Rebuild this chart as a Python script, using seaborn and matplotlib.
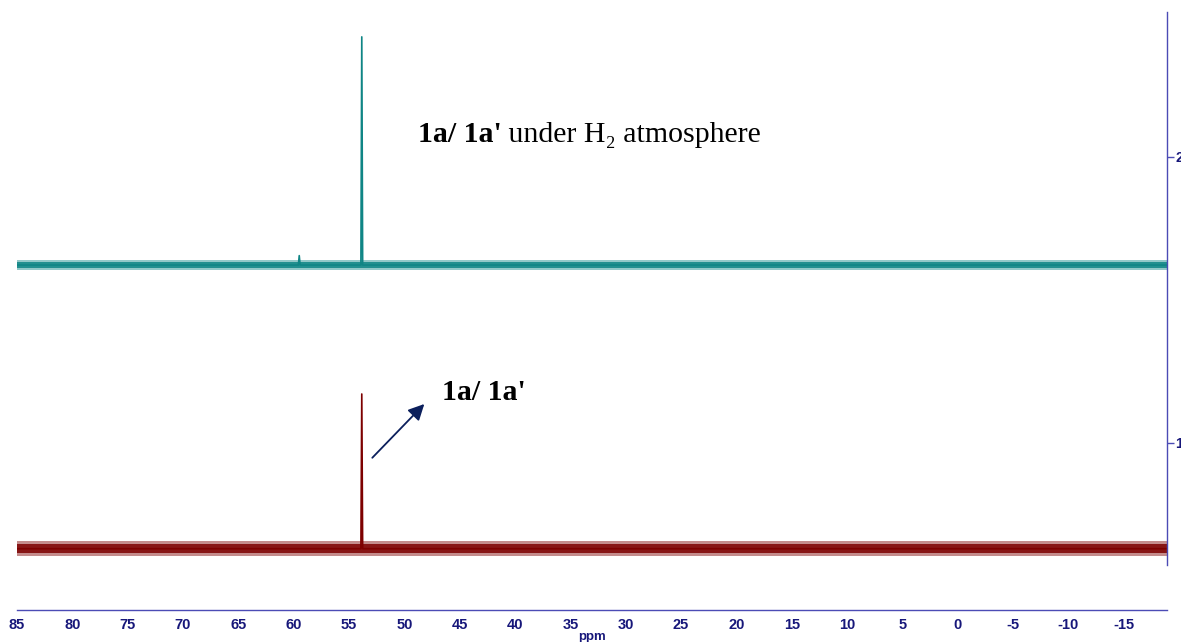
import numpy as np
import pandas as pd
import matplotlib
matplotlib.use("Agg")
import matplotlib.pyplot as plt
from matplotlib.ticker import MultipleLocator
import seaborn as sns

# Spectral window (ppm) and x-axis ticks
ppm_left = 85.0
ppm_right = -18.9
ppm_ticks = [85, 80, 75, 70, 65, 60, 55, 50, 45, 40, 35, 30, 25, 20, 15, 10, 5, 0, -5, -10, -15]
intensity_ticks = [1, 2]

# Spectrum under H2 atmosphere (upper trace)
h2_baseline = 1.622
h2_noise = 0.016
h2_peak_ppm = [59.5, 53.85]
h2_peak_top = [1.655, 2.42]

# Reference spectrum of 1a/1a' (lower trace)
ref_baseline = 0.630
ref_noise = 0.027
ref_peak_ppm = [53.85]
ref_peak_top = [1.171]

teal = "#0f8585"
maroon = "#7d0000"
axis_blue = "#4b4bb5"
navy = "#17177a"
arrow_navy = "#0b1f5c"


def spectrum_frame(baseline, peak_ppm, peak_top):
    xs, ys = [ppm_left], [baseline]
    for p, t in sorted(zip(peak_ppm, peak_top), reverse=True):
        xs += [p + 0.08, p, p - 0.08]
        ys += [baseline, t, baseline]
    xs.append(ppm_right)
    ys.append(baseline)
    return pd.DataFrame({"ppm": xs, "intensity": ys})


sns.set_style("white")
plt.rcParams["font.family"] = ["Liberation Sans", "DejaVu Sans"]

fig = plt.figure(figsize=(11.81, 6.42), dpi=100)
ax = fig.add_axes([17 / 1181, 77 / 642, (1167 - 17) / 1181, 553 / 642])

# baseline noise envelopes: a dense core and a fainter outer fringe
for base, amp, col in [(h2_baseline, h2_noise, teal), (ref_baseline, ref_noise, maroon)]:
    ax.fill_between([ppm_left, ppm_right], base - amp, base + amp,
                    color=col, alpha=0.45, linewidth=0)
    ax.fill_between([ppm_left, ppm_right], base - 0.6 * amp, base + 0.6 * amp,
                    color=col, alpha=0.85, linewidth=0)

h2_df = spectrum_frame(h2_baseline, h2_peak_ppm, h2_peak_top)
ref_df = spectrum_frame(ref_baseline, ref_peak_ppm, ref_peak_top)
sns.lineplot(data=h2_df, x="ppm", y="intensity", ax=ax, color=teal,
             linewidth=1.2, sort=False, estimator=None)
sns.lineplot(data=ref_df, x="ppm", y="intensity", ax=ax, color=maroon,
             linewidth=1.2, sort=False, estimator=None)

ax.set_xlim(ppm_left, ppm_right)
ax.set_ylim(0.573, 2.507)

# axes styling in the spectrometer-software look
for side in ["left", "top"]:
    ax.spines[side].set_visible(False)
ax.spines["right"].set_color(axis_blue)
ax.spines["bottom"].set_color(axis_blue)
ax.spines["bottom"].set_position(("outward", 32.4))
ax.spines["right"].set_linewidth(1.0)
ax.spines["bottom"].set_linewidth(1.0)

ax.set_xticks(ppm_ticks)
ax.set_xticklabels([str(t) for t in ppm_ticks])
ax.xaxis.set_minor_locator(MultipleLocator(2.5))
ax.tick_params(axis="x", which="major", direction="out", length=4, width=1,
               color=axis_blue, labelcolor=navy, labelsize=10.5, pad=2)
ax.tick_params(axis="x", which="minor", direction="out", length=2.5, width=1,
               color=axis_blue)
for lab in ax.get_xticklabels():
    lab.set_fontweight("bold")

ax.yaxis.tick_right()
ax.set_yticks(intensity_ticks)
ax.set_yticklabels([str(t) for t in intensity_ticks])
ax.tick_params(axis="y", which="both", direction="out", length=5, width=1,
               color=axis_blue, labelcolor=navy, labelsize=10.5, pad=1,
               left=False, right=True)
for lab in ax.get_yticklabels():
    lab.set_fontweight("bold")

ax.set_xlabel("ppm", fontweight="bold", color=navy, fontsize=9.5, labelpad=-1)
ax.set_ylabel("")

serif = ["Liberation Serif", "DejaVu Serif"]
t1 = ax.text(48.8, 2.031, "1a/ 1a'", family=serif, fontweight="bold",
             fontsize=21.5, ha="left", va="bottom", color="black")
ax.annotate(" under H\u2082 atmosphere", xy=(1, 0), xycoords=t1,
            family=serif, fontsize=21.5, ha="left", va="bottom", color="black")

ax.text(46.6, 1.175, "1a/ 1a'", family=serif, fontweight="bold",
        fontsize=21.5, ha="left", va="center", color="black")
ax.annotate("", xy=(48.2, 1.136), xytext=(52.9, 0.948),
            arrowprops=dict(arrowstyle="-|>", color=arrow_navy, lw=1.3,
                            mutation_scale=24, shrinkA=0, shrinkB=0))

fig.savefig("out.png", dpi=100, facecolor="white")
